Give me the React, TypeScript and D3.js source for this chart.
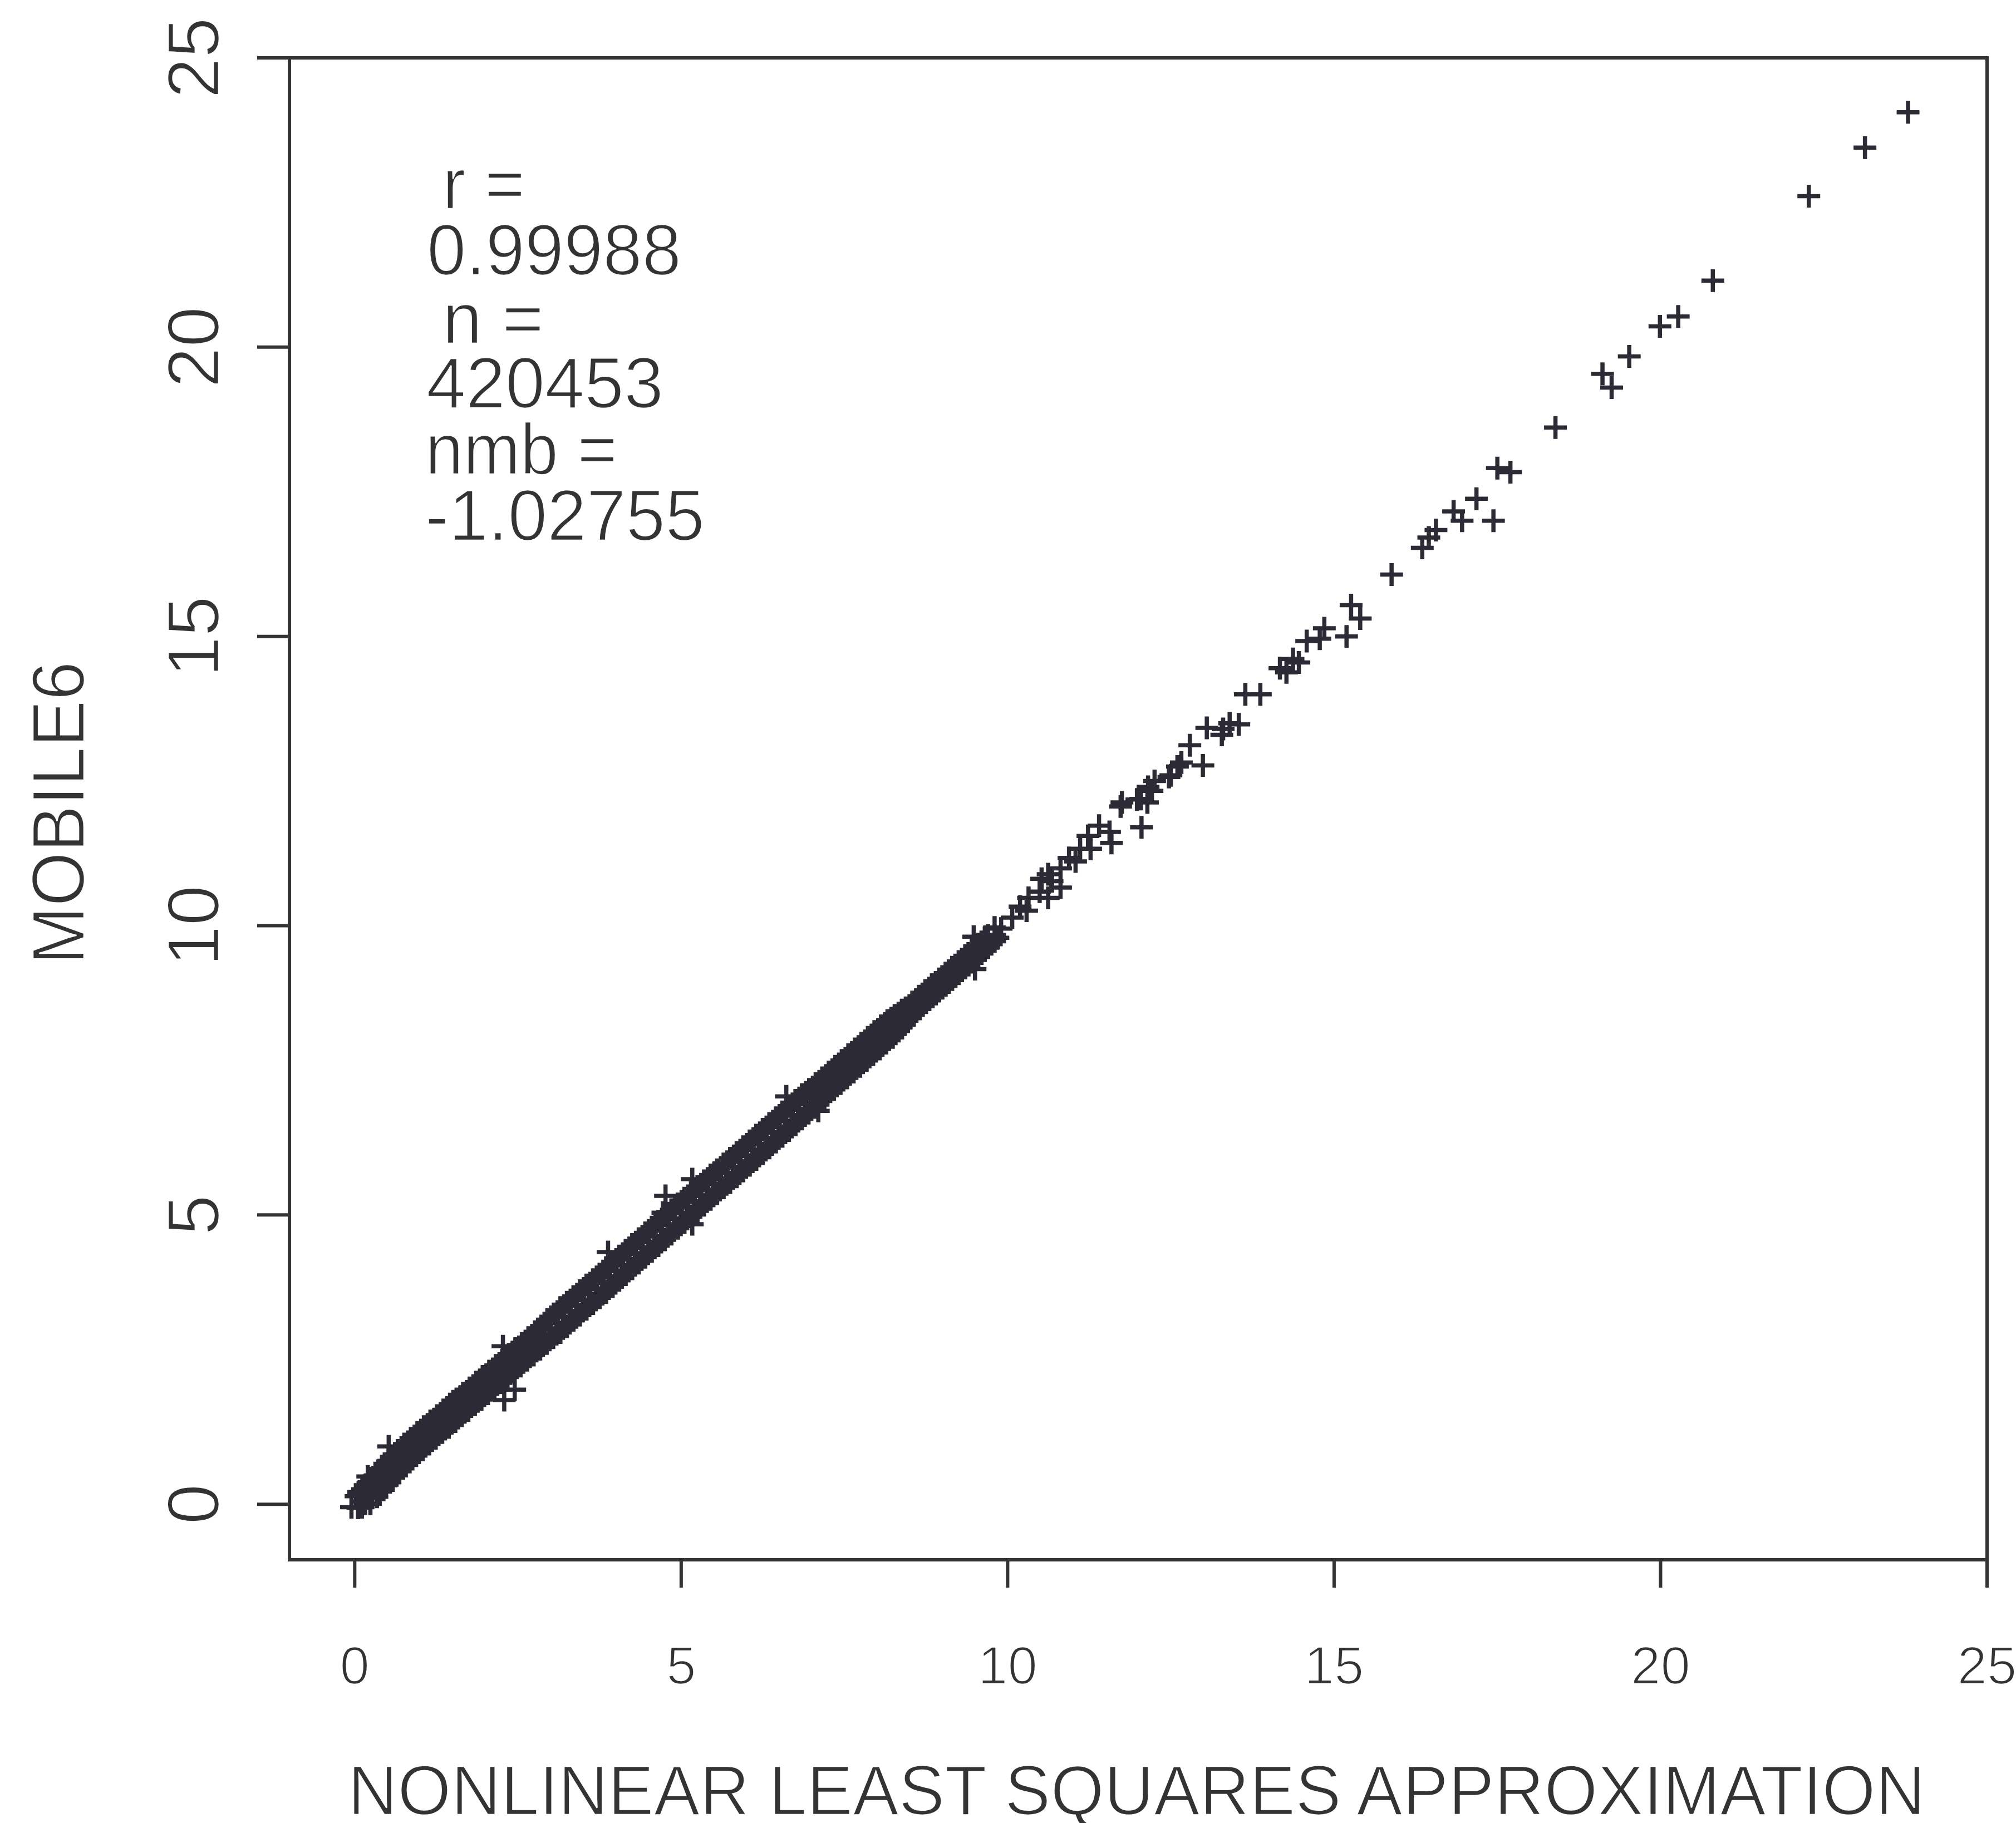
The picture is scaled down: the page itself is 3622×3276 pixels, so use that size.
import React from 'react';
import * as d3 from 'd3';

const W = 3622;
const H = 3276;

// axis limits (plot region) and ticks
const xLimits = [-1.0, 25];
const yLimits = [-0.96, 25];
const xTicks = [0, 5, 10, 15, 20, 25];
const yTicks = [0, 5, 10, 15, 20, 25];
const xTitle = 'NONLINEAR LEAST SQUARES APPROXIMATION';
const yTitle = 'MOBILE6';
const statLines = [' r =', '0.99988', ' n =', '420453', 'nmb =', '-1.02755'];

// dense band: centre, upper and lower edges of the overlapping markers (approx, MOBILE6)
const bandCentre: [number, number][] = [
  [-0.05, -0.05], [0.10, 0.05], [0.20, 0.17], [0.30, 0.29], [0.40, 0.41], [0.50, 0.54], [0.60, 0.66], [0.70, 0.77], [0.80, 0.88], [0.90, 0.99],
  [1.00, 1.09], [1.10, 1.19], [1.20, 1.29], [1.30, 1.38], [1.40, 1.48], [1.50, 1.58], [1.60, 1.67], [1.70, 1.77], [1.80, 1.86], [1.90, 1.96],
  [2.00, 2.06], [2.10, 2.15], [2.20, 2.25], [2.30, 2.34], [2.40, 2.44], [2.50, 2.54], [2.60, 2.63], [2.70, 2.73], [2.80, 2.83], [2.90, 2.93],
  [3.00, 3.03], [3.10, 3.13], [3.20, 3.24], [3.30, 3.33], [3.40, 3.43], [3.50, 3.54], [3.60, 3.63], [3.70, 3.72], [3.80, 3.82], [3.90, 3.93],
  [4.00, 4.03], [4.10, 4.14], [4.20, 4.23], [4.30, 4.33], [4.40, 4.44], [4.50, 4.53], [4.60, 4.63], [4.70, 4.74], [4.80, 4.83], [4.90, 4.93],
  [5.00, 5.04], [5.10, 5.13], [5.20, 5.23], [5.30, 5.34], [5.40, 5.43], [5.50, 5.53], [5.60, 5.63], [5.70, 5.72], [5.80, 5.82], [5.90, 5.93],
  [6.00, 6.02], [6.10, 6.12], [6.20, 6.23], [6.30, 6.32], [6.40, 6.42], [6.50, 6.53], [6.60, 6.62], [6.70, 6.72], [6.80, 6.83], [6.90, 6.92],
  [7.00, 7.02], [7.10, 7.13], [7.20, 7.22], [7.30, 7.32], [7.40, 7.43], [7.50, 7.52], [7.60, 7.62], [7.70, 7.73], [7.80, 7.82], [7.90, 7.92],
  [8.00, 8.03], [8.10, 8.12], [8.20, 8.22], [8.30, 8.33], [8.40, 8.42], [8.50, 8.52], [8.60, 8.63], [8.70, 8.72], [8.80, 8.82], [8.90, 8.93],
  [9.00, 9.02], [9.10, 9.12], [9.20, 9.23], [9.30, 9.32], [9.40, 9.42], [9.50, 9.53], [9.60, 9.62], [9.70, 9.73], [9.80, 9.84], [9.90, 9.95],
];

const bandUpper: [number, number][] = [
  [0.02, 0.14], [0.12, 0.26], [0.22, 0.38], [0.32, 0.50], [0.42, 0.63], [0.52, 0.75], [0.62, 0.86], [0.72, 0.97], [0.82, 1.08],
  [0.92, 1.18], [1.02, 1.28], [1.12, 1.38], [1.22, 1.47], [1.32, 1.57], [1.42, 1.67], [1.52, 1.76], [1.62, 1.86], [1.72, 1.95], [1.82, 2.05],
  [1.92, 2.15], [2.02, 2.24], [2.12, 2.34], [2.22, 2.43], [2.32, 2.53], [2.42, 2.63], [2.52, 2.72], [2.62, 2.82], [2.72, 2.92], [2.82, 3.02],
  [2.91, 3.13], [3.01, 3.23], [3.11, 3.33], [3.21, 3.43], [3.31, 3.53], [3.41, 3.63], [3.51, 3.73], [3.61, 3.82], [3.71, 3.92], [3.81, 4.03],
  [3.91, 4.13], [4.01, 4.23], [4.11, 4.33], [4.21, 4.43], [4.31, 4.53], [4.41, 4.63], [4.51, 4.73], [4.61, 4.83], [4.71, 4.93], [4.81, 5.03],
  [4.91, 5.13], [5.01, 5.23], [5.11, 5.33], [5.21, 5.43], [5.31, 5.53], [5.41, 5.63], [5.51, 5.73], [5.61, 5.82], [5.71, 5.92], [5.81, 6.02],
  [5.91, 6.12], [6.01, 6.22], [6.11, 6.32], [6.21, 6.42], [6.31, 6.52], [6.41, 6.62], [6.51, 6.72], [6.61, 6.82], [6.71, 6.92], [6.81, 7.02],
  [6.91, 7.12], [7.02, 7.21], [7.12, 7.31], [7.22, 7.41], [7.32, 7.51], [7.42, 7.61], [7.52, 7.71], [7.62, 7.81], [7.72, 7.91], [7.82, 8.01],
  [7.92, 8.11], [8.02, 8.21], [8.12, 8.31], [8.22, 8.40], [8.33, 8.49], [8.44, 8.58], [8.54, 8.68], [8.64, 8.78], [8.74, 8.88], [8.84, 8.98],
  [8.95, 9.08], [9.05, 9.18], [9.15, 9.28], [9.25, 9.38], [9.35, 9.48], [9.45, 9.58], [9.55, 9.68], [9.65, 9.79],
];

const bandUpperOuter: [number, number][] = [
  [0.06, 0.21], [0.16, 0.33], [0.26, 0.45], [0.36, 0.58], [0.46, 0.70], [0.56, 0.82], [0.66, 0.93], [0.76, 1.04], [0.86, 1.14],
  [0.96, 1.24], [1.06, 1.34], [1.16, 1.44], [1.26, 1.53], [1.36, 1.63], [1.46, 1.73], [1.56, 1.82], [1.66, 1.92], [1.76, 2.01], [1.86, 2.11],
  [1.96, 2.21], [2.06, 2.30], [2.16, 2.40], [2.26, 2.49], [2.36, 2.59], [2.46, 2.69], [2.56, 2.78], [2.66, 2.88], [2.76, 2.98], [2.86, 3.08],
  [2.95, 3.19], [3.05, 3.29], [3.15, 3.40], [3.25, 3.49], [3.35, 3.59], [3.45, 3.69], [3.55, 3.79], [3.65, 3.88], [3.75, 3.98], [3.85, 4.09],
  [3.95, 4.19], [4.05, 4.29], [4.15, 4.39], [4.25, 4.49], [4.35, 4.59], [4.45, 4.69], [4.55, 4.79], [4.65, 4.89], [4.75, 4.99], [4.85, 5.09],
  [4.95, 5.19], [5.05, 5.29], [5.15, 5.39], [5.25, 5.49], [5.35, 5.59], [5.45, 5.69], [5.55, 5.78], [5.65, 5.88], [5.75, 5.98], [5.85, 6.08],
  [5.95, 6.18], [6.05, 6.28], [6.15, 6.38], [6.25, 6.48], [6.35, 6.58], [6.45, 6.68], [6.55, 6.78], [6.65, 6.88], [6.75, 6.98], [6.85, 7.08],
  [6.96, 7.17], [7.06, 7.27], [7.16, 7.37], [7.26, 7.47], [7.36, 7.57], [7.46, 7.67], [7.56, 7.77], [7.66, 7.87], [7.76, 7.97], [7.86, 8.07],
  [7.96, 8.17], [8.06, 8.27], [8.16, 8.36], [8.27, 8.45], [8.38, 8.54], [8.50, 8.62], [8.60, 8.72], [8.70, 8.82], [8.80, 8.92], [8.90, 9.02],
  [9.00, 9.12], [9.10, 9.22], [9.20, 9.32], [9.30, 9.42], [9.40, 9.52], [9.50, 9.62], [9.60, 9.72], [9.70, 9.83],
];

const bandLower: [number, number][] = [
  [0.05, -0.06], [0.16, 0.01], [0.27, 0.11], [0.38, 0.22], [0.48, 0.33], [0.58, 0.46], [0.68, 0.58], [0.78, 0.69], [0.88, 0.80], [0.98, 0.91],
  [1.08, 1.01], [1.18, 1.11], [1.28, 1.21], [1.38, 1.30], [1.48, 1.40], [1.58, 1.50], [1.68, 1.59], [1.78, 1.69], [1.88, 1.78], [1.98, 1.88],
  [2.08, 1.98], [2.18, 2.07], [2.28, 2.17], [2.38, 2.26], [2.48, 2.36], [2.58, 2.46], [2.68, 2.55], [2.78, 2.65], [2.88, 2.75], [2.98, 2.85],
  [3.09, 2.94], [3.19, 3.04], [3.29, 3.14], [3.39, 3.24], [3.49, 3.34], [3.59, 3.44], [3.69, 3.54], [3.79, 3.63], [3.89, 3.73], [3.99, 3.84],
  [4.09, 3.94], [4.19, 4.04], [4.29, 4.14], [4.39, 4.24], [4.49, 4.34], [4.59, 4.44], [4.69, 4.54], [4.79, 4.64], [4.89, 4.74], [4.99, 4.84],
  [5.09, 4.94], [5.19, 5.04], [5.29, 5.14], [5.39, 5.24], [5.49, 5.34], [5.59, 5.44], [5.69, 5.54], [5.79, 5.63], [5.89, 5.73], [5.99, 5.83],
  [6.09, 5.93], [6.19, 6.03], [6.29, 6.13], [6.39, 6.23], [6.49, 6.33], [6.59, 6.43], [6.69, 6.53], [6.79, 6.63], [6.89, 6.73], [6.99, 6.83],
  [7.09, 6.93], [7.18, 7.04], [7.28, 7.14], [7.38, 7.24], [7.48, 7.34], [7.58, 7.44], [7.68, 7.54], [7.78, 7.64], [7.88, 7.74], [7.98, 7.84],
  [8.08, 7.94], [8.18, 8.04], [8.28, 8.14], [8.37, 8.25], [8.46, 8.36], [8.55, 8.47], [8.65, 8.57], [8.75, 8.67], [8.85, 8.77], [8.95, 8.87],
  [9.05, 8.97], [9.15, 9.07], [9.25, 9.17], [9.35, 9.27], [9.45, 9.37], [9.55, 9.47], [9.65, 9.57], [9.75, 9.68], [9.85, 9.79],
];

const bandLowerOuter: [number, number][] = [
  [0.11, -0.05], [0.24, 0.01], [0.34, 0.13], [0.44, 0.25], [0.54, 0.38], [0.64, 0.50], [0.74, 0.62], [0.84, 0.73], [0.94, 0.84],
  [1.04, 0.94], [1.14, 1.04], [1.24, 1.14], [1.34, 1.24], [1.44, 1.33], [1.54, 1.43], [1.64, 1.53], [1.74, 1.62], [1.84, 1.72], [1.94, 1.81],
  [2.04, 1.91], [2.14, 2.01], [2.24, 2.10], [2.34, 2.20], [2.44, 2.29], [2.54, 2.39], [2.64, 2.49], [2.74, 2.58], [2.84, 2.68], [2.94, 2.78],
  [3.04, 2.88], [3.15, 2.97], [3.25, 3.07], [3.35, 3.18], [3.45, 3.27], [3.55, 3.37], [3.65, 3.47], [3.75, 3.57], [3.85, 3.66], [3.95, 3.76],
  [4.05, 3.87], [4.15, 3.97], [4.25, 4.07], [4.35, 4.17], [4.45, 4.27], [4.55, 4.37], [4.65, 4.47], [4.75, 4.57], [4.85, 4.67], [4.95, 4.77],
  [5.05, 4.87], [5.15, 4.97], [5.25, 5.07], [5.35, 5.17], [5.45, 5.27], [5.55, 5.37], [5.65, 5.47], [5.75, 5.56], [5.85, 5.66], [5.95, 5.76],
  [6.05, 5.86], [6.15, 5.96], [6.25, 6.06], [6.35, 6.16], [6.45, 6.26], [6.55, 6.36], [6.65, 6.46], [6.75, 6.56], [6.85, 6.66], [6.95, 6.76],
  [7.05, 6.86], [7.14, 6.97], [7.24, 7.07], [7.34, 7.17], [7.44, 7.27], [7.54, 7.37], [7.64, 7.47], [7.74, 7.57], [7.84, 7.67], [7.94, 7.77],
  [8.04, 7.87], [8.14, 7.97], [8.24, 8.07], [8.33, 8.18], [8.42, 8.29], [8.51, 8.40], [8.60, 8.52], [8.70, 8.62], [8.80, 8.72], [8.90, 8.82],
  [9.00, 8.92], [9.10, 9.02], [9.20, 9.12], [9.30, 9.22], [9.40, 9.32], [9.50, 9.42], [9.60, 9.52], [9.70, 9.62], [9.80, 9.73],
];

// individually visible markers (outliers on the band edges and the sparse upper range)
const bandOutliers: [number, number][] = [
  [0.20, 0.48], [0.52, 1.00], [1.51, 1.78], [2.27, 2.73], [2.29, 1.80], [2.45, 1.98], [3.88, 4.36], [4.76, 5.33],
  [4.72, 5.04], [5.17, 5.62], [5.17, 4.84], [6.61, 7.05], [7.10, 6.80], [9.48, 9.81], [9.50, 9.25], [9.80, 9.97],
];

const midRange: [number, number][] = [
  [10.07, 10.14], [10.19, 10.33], [10.29, 10.26], [10.32, 10.48], [10.49, 10.59], [10.52, 10.81], [10.62, 10.48],
  [10.62, 10.89], [10.68, 10.77], [10.81, 10.66], [10.81, 10.99], [10.94, 11.17], [11.04, 11.11], [11.11, 11.33],
  [11.23, 11.55], [11.27, 11.33], [11.40, 11.73], [11.56, 11.62], [11.59, 11.43], [11.73, 12.06], [11.75, 12.13],
  [11.98, 12.18], [12.04, 12.19], [12.05, 11.70], [12.14, 12.13], [12.15, 12.40], [12.21, 12.33], [12.25, 12.50],
  [12.47, 12.57], [12.50, 12.60], [12.60, 12.75], [12.66, 12.82], [12.79, 13.12], [12.99, 12.77], [13.05, 13.42],
  [13.28, 13.30], [13.30, 13.40], [13.40, 13.50], [13.54, 13.48], [13.64, 14.00], [13.87, 14.00], [14.17, 14.45],
  [14.27, 14.38], [14.37, 14.61], [14.46, 14.55], [14.58, 14.92], [14.78, 14.96], [14.85, 15.14], [15.19, 15.00],
  [15.26, 15.54], [15.40, 15.31], [15.88, 16.07], [16.35, 16.53], [16.45, 16.71], [16.56, 16.84],
];

const upperRange: [number, number][] = [
  [16.83, 17.16], [16.96, 17.00], [17.18, 17.38], [17.44, 17.00], [17.50, 17.91], [17.70, 17.84], [18.39, 18.61],
  [19.11, 19.54], [19.25, 19.30], [19.52, 19.84], [19.99, 20.36], [20.27, 20.53], [20.80, 21.15], [22.27, 22.61],
  [23.13, 23.45], [23.79, 24.06],
];

const FONT = "'Liberation Sans', Arial, Helvetica, sans-serif";
const INK = '#333333';
const MARK = '#2b2a35';

export default function App() {
  const x = d3.scaleLinear().domain(xLimits).range([520, 3570]);
  const y = d3.scaleLinear().domain(yLimits).range([2803, 104]);

  const pts = [
    ...bandLowerOuter,
    ...bandLower,
    ...bandCentre,
    ...bandUpper,
    ...bandUpperOuter,
    ...bandOutliers,
    ...midRange,
    ...upperRange,
  ];
  const arm = 20.5;
  const marks = pts
    .map(([a, b]) => {
      const px = x(a);
      const py = y(b);
      return `M${px - arm},${py}H${px + arm}M${px},${py - arm}V${py + arm}`;
    })
    .join('');

  const left = x(xLimits[0]);
  const right = x(xLimits[1]);
  const top = y(yLimits[1]);
  const bottom = y(yLimits[0]);

  // annotation geometry (text start, baseline, rendered length)
  const statX = [795, 767, 795, 766, 764, 764];
  const statY = [375, 494, 617, 733, 852, 971];
  const statLen = [148, 457, 182, 426, 345, 502];

  const txtCommon = {
    fontFamily: FONT,
    fill: INK,
    stroke: '#ffffff',
    strokeWidth: 2.5,
  };

  return (
    <svg
      width={W}
      height={H}
      viewBox={`0 0 ${W} ${H}`}
      style={{ position: 'absolute', left: 0, top: 0, background: '#ffffff', display: 'block' }}
    >
      <rect x={0} y={0} width={W} height={H} fill="#ffffff" />
      {/* plot box */}
      <rect x={left} y={top} width={right - left} height={bottom - top} fill="none" stroke={INK} strokeWidth={6} />
      {/* x ticks */}
      {xTicks.map((t) => (
        <line key={'xt' + t} x1={x(t)} x2={x(t)} y1={bottom} y2={bottom + 50} stroke={INK} strokeWidth={6} />
      ))}
      {xTicks.map((t) => (
        <text key={'xl' + t} x={x(t)} y={3026} fontSize={96} textAnchor="middle" {...txtCommon}>
          {String(t)}
        </text>
      ))}
      {/* y ticks */}
      {yTicks.map((t) => (
        <line key={'yt' + t} x1={left - 58} x2={left} y1={y(t)} y2={y(t)} stroke={INK} strokeWidth={6} />
      ))}
      {yTicks.map((t) => (
        <text
          key={'yl' + t}
          transform={`translate(393, ${y(t)}) rotate(-90)`}
          fontSize={131}
          textAnchor="middle"
          {...txtCommon}
        >
          {String(t)}
        </text>
      ))}
      {/* axis titles */}
      <text x={625} y={3261} fontSize={126} textLength={2834} lengthAdjust="spacingAndGlyphs" {...txtCommon}>
        {xTitle}
      </text>
      <text
        transform={`translate(151, 1461) rotate(-90)`}
        fontSize={134}
        textAnchor="middle"
        textLength={545}
        lengthAdjust="spacingAndGlyphs"
        {...txtCommon}
      >
        {yTitle}
      </text>
      {/* statistics */}
      {statLines.map((s, i) => (
        <text
          key={'st' + i}
          x={statX[i]}
          y={statY[i]}
          fontSize={130}
          textLength={statLen[i]}
          lengthAdjust="spacingAndGlyphs"
          {...txtCommon}
        >
          {s.trim()}
        </text>
      ))}
      {/* points */}
      <path d={marks} fill="none" stroke={MARK} strokeWidth={7.5} />
    </svg>
  );
}
